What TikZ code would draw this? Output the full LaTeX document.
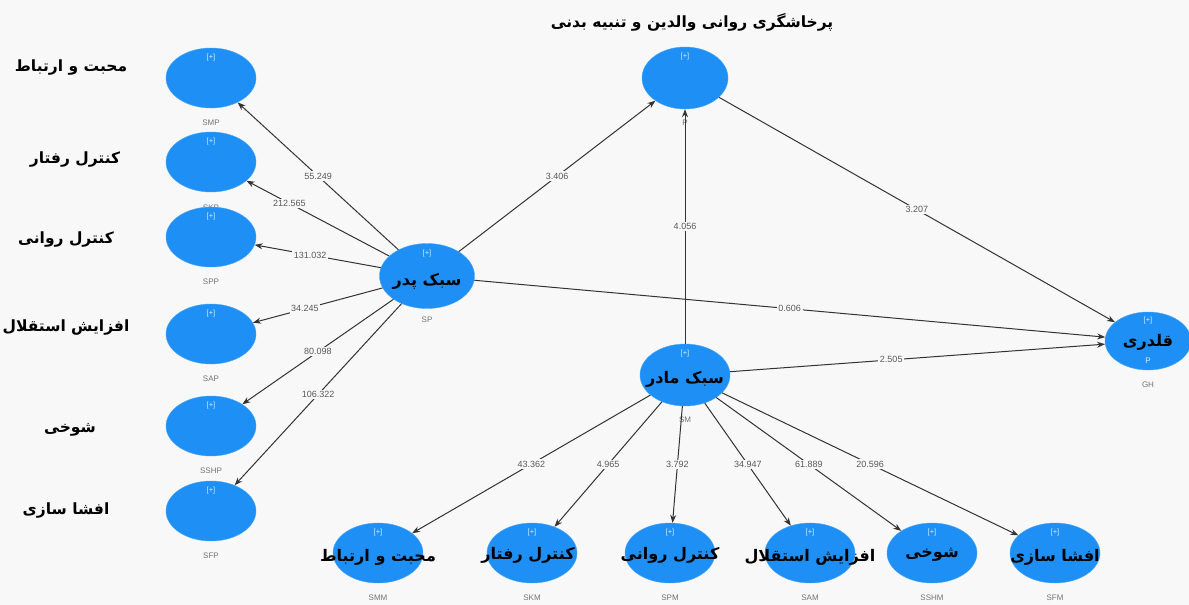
\documentclass[tikz,border=0pt]{standalone}
\usepackage{fontspec}
\setsansfont{Liberation Sans}
\newfontfamily\arabicfont[Script=Arabic]{DejaVu Sans}
\TeXXeTstate=1
\usetikzlibrary{shapes.geometric,arrows.meta,positioning}
\definecolor{lvblue}{RGB}{30,144,245}
\definecolor{bgpaper}{RGB}{248,248,248}
\newcommand{\fa}[1]{\beginR #1\endR}
\tikzset{
  latent/.style={ellipse,fill=lvblue,draw=lvblue!80,minimum width=90pt,minimum height=60pt,inner sep=0pt},
  latname/.style={font=\arabicfont\bfseries\fontsize{16}{16}\selectfont,inner sep=0pt},
  sidename/.style={font=\arabicfont\bfseries\fontsize{15.5}{15.5}\selectfont,inner sep=0pt},
  plus/.style={font=\sffamily\fontsize{7.5}{7.5}\selectfont,text=white!85!lvblue,inner sep=0pt},
  varname/.style={font=\sffamily\fontsize{8}{8}\selectfont,text=black!55,inner sep=0pt,anchor=north},
  path/.style={draw=black!80,line width=1pt,-{Stealth[length=8pt,width=6pt]}},
  num/.style={font=\sffamily\fontsize{9}{9}\selectfont,text=black!65,fill=bgpaper,inner sep=1.5pt}
}
\begin{document}
\begin{tikzpicture}[x=1pt,y=-1pt]
\fill[bgpaper] (0,0) rectangle (1189,605);
\useasboundingbox (0,0) rectangle (1189,605);

% father indicators
\node[latent] (SMP) at (211,78) {};
\node[plus] at ([yshift=-10pt]SMP.north) {[+]};
\node[varname] at ([yshift=-12pt]SMP.south) {SMP};
\node[latent] (SKP) at (211,162) {};
\node[plus] at ([yshift=-10pt]SKP.north) {[+]};
\node[varname] at ([yshift=-13pt]SKP.south) {SKP};
\node[latent] (SPP) at (211,237) {};
\node[plus] at ([yshift=-10pt]SPP.north) {[+]};
\node[varname] at ([yshift=-12pt]SPP.south) {SPP};
\node[latent] (SAP) at (211,334) {};
\node[plus] at ([yshift=-10pt]SAP.north) {[+]};
\node[varname] at ([yshift=-12pt]SAP.south) {SAP};
\node[latent] (SSHP) at (211,426) {};
\node[plus] at ([yshift=-10pt]SSHP.north) {[+]};
\node[varname] at ([yshift=-12pt]SSHP.south) {SSHP};
\node[latent] (SFP) at (211,511) {};
\node[plus] at ([yshift=-10pt]SFP.north) {[+]};
\node[varname] at ([yshift=-12pt]SFP.south) {SFP};

\node[sidename] (tSMP) at (71,68) {\fa{محبت و ارتباط}};
\node[sidename] (tSKP) at (75,160) {\fa{کنترل رفتار}};
\node[sidename] (tSPP) at (66,240) {\fa{کنترل روانی}};
\node[sidename] (tSAP) at (66,327) {\fa{افزایش استقلال}};
\node[sidename] (tSSHP) at (70,430) {\fa{شوخی}};
\node[sidename] (tSFP) at (66,510) {\fa{افشا سازی}};

% main constructs
\node[latent,minimum width=95pt,minimum height=65pt] (SP) at (427,276) {};
\node[plus] at ([yshift=-10pt]SP.north) {[+]};
\node[latname] at ([yshift=-5pt]SP.center) {\fa{سبک پدر}};
\node[varname] at ([yshift=-8pt]SP.south) {SP};

\node[latent,minimum width=86pt,minimum height=62pt] (P) at (685,78) {};
\node[plus] at ([yshift=-10pt]P.north) {[+]};
\node[varname] at ([yshift=-11pt]P.south) {P};
\node[latname,font=\arabicfont\bfseries\fontsize{15.5}{15.5}\selectfont] (tP) at (692,22) {\fa{پرخاشگری روانی والدین و تنبیه بدنی}};

\node[latent,minimum width=90pt,minimum height=62pt] (SM) at (685,375) {};
\node[plus] at ([yshift=-10pt]SM.north) {[+]};
\node[latname] at ([yshift=-4pt]SM.center) {\fa{سبک مادر}};
\node[varname] at ([yshift=-11pt]SM.south) {SM};

\node[latent,minimum width=86pt,minimum height=58pt] (GH) at (1148,341) {};
\node[plus] at ([yshift=-9pt]GH.north) {[+]};
\node[latname] at ([yshift=-1pt]GH.center) {\fa{قلدری}};
\node[plus,font=\sffamily\fontsize{8}{8}\selectfont] at ([yshift=9pt]GH.south) {P};
\node[varname] at ([yshift=-12pt]GH.south) {GH};

% mother indicators
\node[latent] (SMM) at (378,553) {};
\node[plus] at ([yshift=-10pt]SMM.north) {[+]};
\node[latname] at ([yshift=-4pt]SMM.center) {\fa{محبت و ارتباط}};
\node[varname] at ([yshift=-12pt]SMM.south) {SMM};
\node[latent] (SKM) at (532,553) {};
\node[plus] at ([yshift=-10pt]SKM.north) {[+]};
\node[latname] at ([yshift=-2pt,xshift=-4pt]SKM.center) {\fa{کنترل رفتار}};
\node[varname] at ([yshift=-12pt]SKM.south) {SKM};
\node[latent] (SPM) at (670,553) {};
\node[plus] at ([yshift=-10pt]SPM.north) {[+]};
\node[latname] at ([yshift=-2pt]SPM.center) {\fa{کنترل روانی}};
\node[varname] at ([yshift=-12pt]SPM.south) {SPM};
\node[latent] (SAM) at (810,553) {};
\node[plus] at ([yshift=-10pt]SAM.north) {[+]};
\node[latname] at ([yshift=-4pt]SAM.center) {\fa{افزایش استقلال}};
\node[varname] at ([yshift=-12pt]SAM.south) {SAM};
\node[latent] (SSHM) at (932,553) {};
\node[plus] at ([yshift=-10pt]SSHM.north) {[+]};
\node[latname] at ([yshift=-2pt]SSHM.center) {\fa{شوخی}};
\node[varname] at ([yshift=-12pt]SSHM.south) {SSHM};
\node[latent] (SFM) at (1055,553) {};
\node[plus] at ([yshift=-10pt]SFM.north) {[+]};
\node[latname] at ([yshift=-4pt]SFM.center) {\fa{افشا سازی}};
\node[varname] at ([yshift=-12pt]SFM.south) {SFM};

% paths
\draw[path] (SP) -- node[num] {55.249} (SMP);
\draw[path] (SP) -- node[num,pos=0.7] {212.565} (SKP);
\draw[path] (SP) -- node[num,pos=0.56] {131.032} (SPP);
\draw[path] (SP) -- node[num,pos=0.6] {34.245} (SAP);
\draw[path] (SP) -- node[num] {80.098} (SSHP);
\draw[path] (SP) -- node[num] {106.322} (SFP);
\draw[path] (SP) -- node[num] {3.406} (P);
\draw[path] (SP) -- node[num] {0.606} (GH);
\draw[path] (SM) -- node[num] {4.056} (P);
\draw[path] (P) -- node[num] {3.207} (GH);
\draw[path] (SM) -- node[num,pos=0.43] {2.505} (GH);
\draw[path] (SM) -- node[num] {43.362} (SMM);
\draw[path] (SM) -- node[num] {4.965} (SKM);
\draw[path] (SM) -- node[num] {3.792} (SPM);
\draw[path] (SM) -- node[num] {34.947} (SAM);
\draw[path] (SM) -- node[num] {61.889} (SSHM);
\draw[path] (SM) -- node[num] {20.596} (SFM);
\end{tikzpicture}
\end{document}
